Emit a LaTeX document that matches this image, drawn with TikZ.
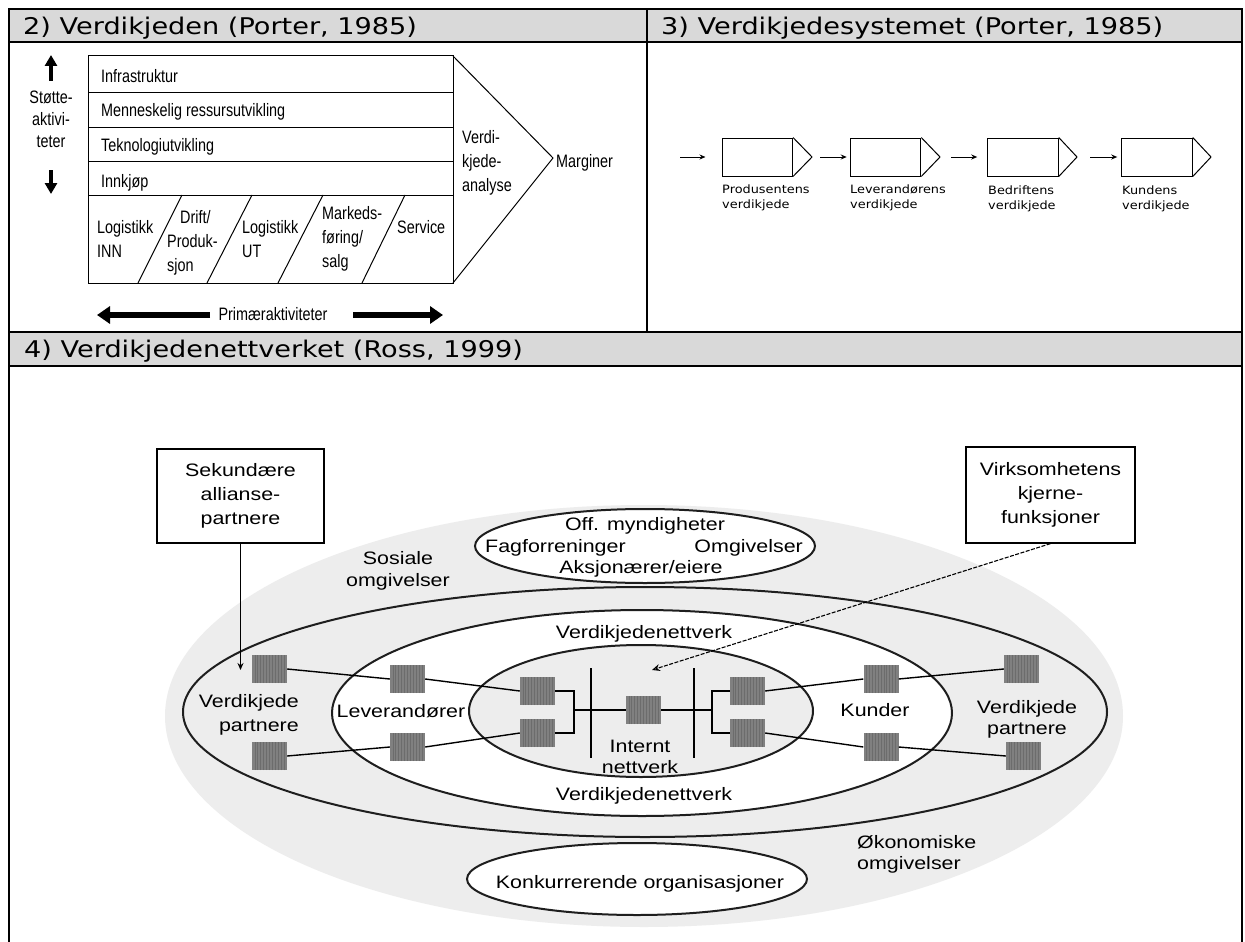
\documentclass[tikz,border=0pt]{standalone}
\usepackage{fontspec}
\setmainfont{Liberation Sans}
\newfontfamily\ttlfont[FakeStretch=1.18]{DejaVu Sans}
\newfontfamily\narrowfont[FakeStretch=0.8]{Liberation Sans}
\newfontfamily\chainfont[FakeStretch=1.12]{DejaVu Sans}
\newfontfamily\netfont[FakeStretch=1.19]{Liberation Sans}
\usetikzlibrary{arrows.meta,calc,shapes.geometric}
\definecolor{hdrgray}{HTML}{D9D9D9}
\definecolor{envgray}{HTML}{EDEDED}
\definecolor{devgray}{HTML}{808080}
\definecolor{devline}{HTML}{6C6C6C}
\definecolor{ellline}{HTML}{1E1E1E}
\tikzset{
  frame/.style={line width=2pt, draw=black},
  ttl/.style={anchor=base west, font=\ttlfont\fontsize{23}{28}\selectfont, inner sep=0},
  vc/.style={font=\narrowfont\fontsize{18}{24}\selectfont, inner sep=0, anchor=base west, align=left},
  vcline/.style={line width=1pt},
  bigarr/.style={line width=6pt, -{Triangle[length=13pt,width=17pt]}},
  supparr/.style={line width=4pt, -{Triangle[length=11pt,width=12pt]}},
  chainbox/.style={draw, line width=1pt, minimum width=70.5pt, minimum height=38pt, inner sep=0},
  chainlbl/.style={font=\chainfont\fontsize{11.5}{15}\selectfont, anchor=base west, align=left, inner sep=0},
  chainarr/.style={line width=0.9pt, -{Stealth[length=6pt,width=5pt]}},
  nettxt/.style={font=\netfont\fontsize{18}{24}\selectfont, inner sep=0, anchor=base, align=center},
  ell/.style={ellipse, draw=ellline, line width=2pt, inner sep=0},
  conn/.style={line width=1.4pt, draw=black},
  callout/.style={draw, line width=1.2pt, inner sep=0, align=center,
    font=\netfont\fontsize{18}{24}\selectfont},
  dev/.style={fill=devgray, inner sep=0, minimum width=35pt, minimum height=28pt,
    path picture={
      \foreach \k in {1,...,11}{
        \draw[devline, line width=0.7pt]
          ($(path picture bounding box.south west)!\k/12!(path picture bounding box.south east)$) --
          ($(path picture bounding box.north west)!\k/12!(path picture bounding box.north east)$);
      }}},
}
\begin{document}
\begin{tikzpicture}[x=1pt, y=-1pt]
\useasboundingbox (0,0) rectangle (1245,942);
\fill[white] (0,0) rectangle (1245,942);
% ---------- table frame ----------
\fill[hdrgray] (9,9) rectangle (1242,42);
\fill[hdrgray] (9,332) rectangle (1242,366);
\draw[frame] (9,942) -- (9,9) -- (1242,9) -- (1242,942);
\draw[frame] (9,42) -- (1242,42);
\draw[frame] (9,332) -- (1242,332);
\draw[frame] (9,366) -- (1242,366);
\draw[frame] (647,9) -- (647,332);
\node[ttl] (t2) at (23,35) {2) Verdikjeden (Porter, 1985)};
\node[ttl] (t3) at (661,35) {3) Verdikjedesystemet (Porter, 1985)};
\node[ttl] (t4) at (24,357) {4) Verdikjedenettverket (Ross, 1999)};

% ---------- panel 2: value chain ----------
\draw[vcline] (88,56) rectangle (453,283);
\foreach \yy in {92,127,161,195}{\draw[vcline] (88,\yy) -- (453,\yy);}
\draw[vcline] (453,56) -- (553,158) -- (453,283);
\draw[vcline] (138,283) -- (182,195);
\draw[vcline] (207,283) -- (252,195);
\draw[vcline] (278,283) -- (323,195);
\draw[vcline] (362,283) -- (405,195);
\node[vc] (infra) at (101,82) {Infrastruktur};
\node[vc] (hr) at (101,117) {Menneskelig ressursutvikling};
\node[vc] (tech) at (101,151) {Teknologiutvikling};
\node[vc] (buy) at (101,187) {Innkjøp};
\node[vc] (login) at (97,257) {Logistikk\\INN};
\node[vc] (drift) at (167,271) {\hspace*{13pt}Drift/\\Produk-\\sjon};
\node[vc] (logut) at (242,257) {Logistikk\\UT};
\node[vc] (mark) at (322,267) {Markeds-\\føring/\\salg};
\node[vc] (serv) at (397,233) {Service};
\node[vc] (vka) at (462,191) {Verdi-\\kjede-\\analyse};
\node[vc] (marg) at (556,167) {Marginer};
\node[vc, anchor=base, align=center, font=\narrowfont\fontsize{18}{22}\selectfont] (stotte) at (51,147) {Støtte-\\aktivi-\\teter};
\node[vc, anchor=base] (prim) at (273,320) {Primæraktiviteter};
\coordinate (uaS) at (51,81); \coordinate (uaE) at (51,55);
\coordinate (daS) at (51,170); \coordinate (daE) at (51,194);
\draw[supparr] (uaS) -- (uaE);
\draw[supparr] (daS) -- (daE);
\coordinate (plS) at (210,315); \coordinate (plE) at (97,315);
\coordinate (prS) at (353,315); \coordinate (prE) at (443,315);
\draw[bigarr] (plS) -- (plE);
\draw[bigarr] (prS) -- (prE);

% ---------- panel 3: value system ----------
\node[chainbox] (c1) at (757.25,157) {};
\node[chainbox] (c2) at (885.5,157) {};
\node[chainbox] (c3) at (1023,157) {};
\node[chainbox] (c4) at (1157,157) {};
\coordinate (k1) at (812,157);
\coordinate (k2) at (940,157);
\coordinate (k3) at (1077,157);
\coordinate (k4) at (1211,157);
\foreach \i in {1,2,3,4}{\draw[line width=1pt, line join=miter] (c\i.north east) -- (k\i) -- (c\i.south east);}
\coordinate (s0) at (680,157);
\draw[chainarr, shorten >=16pt] (s0) -- (c1.west);
\draw[chainarr, shorten <=8pt, shorten >=3pt] (k1) -- (c2.west);
\draw[chainarr, shorten <=11pt, shorten >=10pt] (k2) -- (c3.west);
\draw[chainarr, shorten <=13pt, shorten >=4pt] (k3) -- (c4.west);
\node[chainlbl] (l1) at (722,208) {Produsentens\\verdikjede};
\node[chainlbl] (l2) at (850,208) {Leverandørens\\verdikjede};
\node[chainlbl] (l3) at (988,209) {Bedriftens\\verdikjede};
\node[chainlbl] (l4) at (1122,209) {Kundens\\verdikjede};

% ---------- panel 4: value network ----------
\node[ellipse, fill=envgray, minimum width=958pt, minimum height=422pt, inner sep=0] (env) at (644,716) {};
\node[ell, minimum width=924pt, minimum height=250pt] (e2) at (645,712) {};
\node[ell, fill=white, minimum width=620pt, minimum height=206pt] (e3) at (642,713) {};
\node[ell, fill=envgray, minimum width=344pt, minimum height=132pt] (e4) at (641,711) {};
\node[ell, fill=white, minimum width=340pt, minimum height=74pt] (etop) at (645,546) {};
\node[ell, fill=white, minimum width=340pt, minimum height=72pt] (ebot) at (637,879) {};

\node[nettxt] (off) at (645,530) {Off. myndigheter};
\node[nettxt, anchor=base west] (fag) at (485,552) {Fagforreninger};
\node[nettxt, anchor=base east] (omg) at (803,552) {Omgivelser};
\node[nettxt] (aksj) at (641,573) {Aksjonærer/eiere};
\node[nettxt, font=\netfont\fontsize{18}{22}\selectfont] (sos) at (398,586) {Sosiale\\omgivelser};
\node[nettxt] (vkn1) at (644,638) {Verdikjedenettverk};
\node[nettxt] (vkn2) at (644,800) {Verdikjedenettverk};
\node[nettxt, font=\netfont\fontsize{18}{21}\selectfont] (int) at (640,773) {Internt\\nettverk};
\node[nettxt] (lev) at (401,717) {Leverandører};
\node[nettxt] (kun) at (875,716) {Kunder};
\node[nettxt, anchor=base east, align=right] (vpl) at (299,731) {Verdikjede\\partnere};
\node[nettxt, font=\netfont\fontsize{18}{21}\selectfont] (vpr) at (1027,734) {Verdikjede\\partnere};
\node[nettxt, anchor=base west, align=left, font=\netfont\fontsize{18}{21}\selectfont] (oko) at (857,869) {Økonomiske\\omgivelser};
\node[nettxt] (konk) at (640,888) {Konkurrerende organisasjoner};

% devices
\node[dev] (lp1) at (269.5,669) {};
\node[dev] (lp2) at (269.5,756) {};
\node[dev] (lv1) at (407.5,679) {};
\node[dev] (lv2) at (407.5,747) {};
\node[dev] (i1) at (537.5,691) {};
\node[dev] (i2) at (537.5,733) {};
\node[dev] (ctr) at (643.5,710) {};
\node[dev] (i3) at (747.5,691) {};
\node[dev] (i4) at (747.5,733) {};
\node[dev] (ku1) at (881,679) {};
\node[dev] (ku2) at (881,747) {};
\node[dev] (rp1) at (1021.5,669) {};
\node[dev] (rp2) at (1023.5,756) {};

\draw[conn] (lp1.east) -- (lv1.west);
\draw[conn] (lv1.east) -- (i1.west);
\draw[conn] (lp2.east) -- (lv2.west);
\draw[conn] (lv2.east) -- (i2.west);
\draw[conn] (i3.east) -- (ku1.west);
\draw[conn] (ku1.east) -- (rp1.west);
\draw[conn] (i4.east) -- (ku2.west);
\draw[conn] (ku2.east) -- (rp2.west);
\coordinate (brL) at (574,710);
\coordinate (brR) at (712,710);
\draw[conn] (i1.east) -| (brL) |- (i2.east);
\draw[conn] (brL) -- (ctr.west);
\draw[conn] (i3.west) -| (brR) |- (i4.west);
\draw[conn] (brR) -- (ctr.east);
\coordinate (barLt) at (591,668); \coordinate (barLb) at (591,758);
\coordinate (barRt) at (694,668); \coordinate (barRb) at (694,758);
\draw[conn] (barLt) -- (barLb);
\draw[conn] (barRt) -- (barRb);

% callouts
\node[callout, minimum width=167pt, minimum height=94pt] (sek) at (240.5,496) {Sekundære\\allianse-\\partnere};
\node[callout, minimum width=169pt, minimum height=96pt] (virk) at (1050.5,495) {Virksomhetens\\kjerne-\\funksjoner};
\coordinate (sekTip) at (240.5,670);
\coordinate (virkTip) at (652,670);
\draw[line width=1.3pt, -{Stealth[length=7pt,width=6pt]}] (sek.south) -- (sekTip);
\draw[line width=1.1pt, dash pattern=on 4pt off 1.5pt, -{Stealth[length=8pt,width=7pt,open]}] (virk.south) -- (virkTip);
\end{tikzpicture}
\end{document}
